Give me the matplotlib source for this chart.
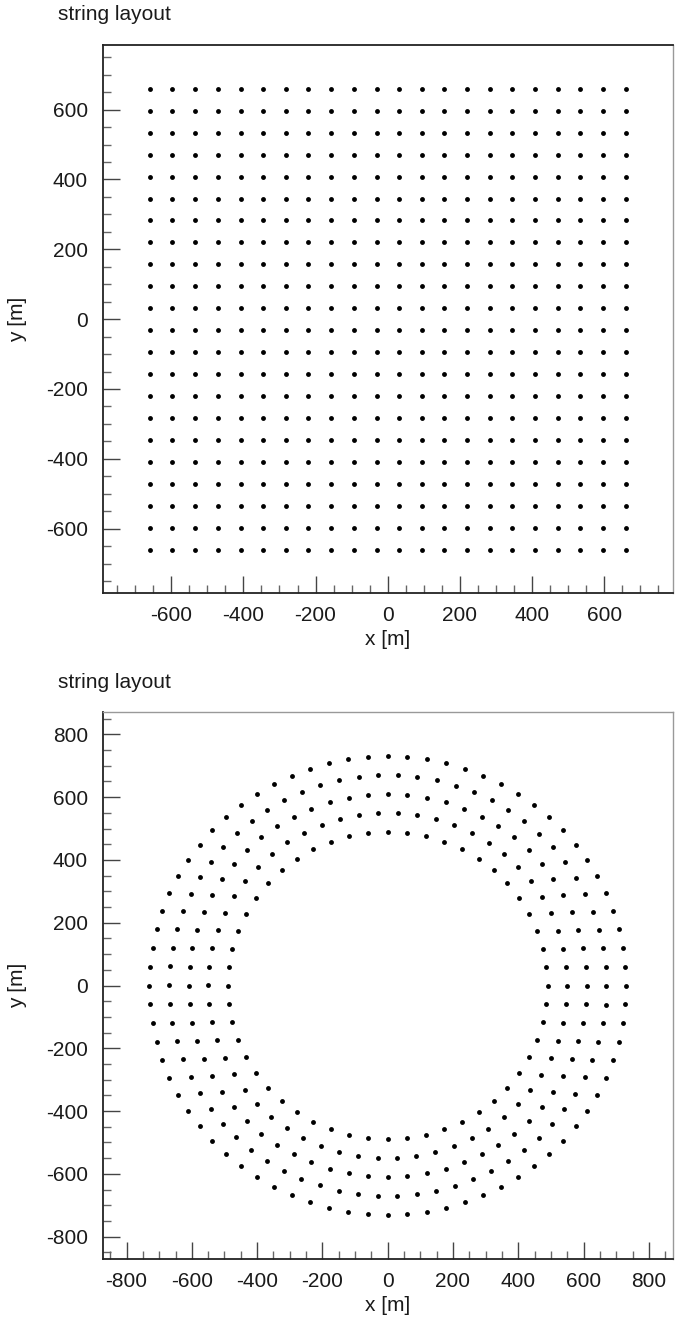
import numpy as np
import matplotlib
matplotlib.use("Agg")
import matplotlib.pyplot as plt
from matplotlib.ticker import MultipleLocator, FuncFormatter

# ---- data ----
grid_x = [-660, -597, -534, -471, -408, -345, -283, -220, -157, -94, -31,
          31, 94, 157, 220, 283, 345, 408, 471, 534, 597, 660]
grid_y = [-660, -597, -534, -471, -408, -345, -283, -220, -157, -94, -31,
          31, 94, 157, 220, 283, 345, 408, 471, 534, 597, 660]

ring_radius = [490, 550, 610, 670, 730]
ring_count = [52, 58, 64, 70, 76]
ring_phase_deg = [0.0, 3.0, 0.0, 2.5, 0.0]

title_text = "string layout"
xlabel_text = "x [m]"
ylabel_text = "y [m]"

plt.rcParams['font.family'] = ['Liberation Sans', 'DejaVu Sans']
FS = 15

W, H = 680, 1324
fig = plt.figure(figsize=(W / 100, H / 100), dpi=100)

fmt = FuncFormatter(lambda v, p: f"{v:.0f}")


def style_axes(ax, xlim, ylim):
    ax.set_xlim(*xlim)
    ax.set_ylim(*ylim)
    ax.xaxis.set_major_locator(MultipleLocator(200))
    ax.yaxis.set_major_locator(MultipleLocator(200))
    ax.xaxis.set_minor_locator(MultipleLocator(50))
    ax.yaxis.set_minor_locator(MultipleLocator(50))
    ax.tick_params(which='both', direction='in', top=False, right=False,
                   labelsize=FS, labelcolor='#1a1a1a')
    ax.tick_params(which='major', length=12, width=1.0, color='#444444')
    ax.tick_params(which='minor', length=6, width=1.0, color='#666666')
    ax.tick_params(axis='y', which='major', pad=10.5)
    ax.tick_params(axis='x', which='major', pad=9)
    ax.xaxis.set_major_formatter(fmt)
    ax.yaxis.set_major_formatter(fmt)
    ax.set_xlabel(xlabel_text, fontsize=FS, labelpad=4, color='#1a1a1a')
    ax.set_ylabel(ylabel_text, fontsize=FS, labelpad=14, color='#1a1a1a')


# ---- top: square grid ----
ax1 = fig.add_axes([102.7 / W, 1 - 593.3 / H, 570 / W, 548.3 / H])
gx, gy = np.meshgrid(grid_x, grid_y)
ax1.plot(gx.ravel(), gy.ravel(), 'o', color='black', ms=3.5, mew=0)
style_axes(ax1, (-790, 790), (-785, 785))
for s in ['left', 'bottom', 'top']:
    ax1.spines[s].set_color('#222222')
    ax1.spines[s].set_linewidth(1.3)
ax1.spines['right'].set_color('#999999')
ax1.spines['right'].set_linewidth(1.0)
fig.text(58 / W, 1 - 15 / H, title_text, fontsize=FS, ha='left', va='center', color='#1a1a1a')

# ---- bottom: rings ----
ax2 = fig.add_axes([102.7 / W, 1 - 1259.3 / H, 570 / W, 547.6 / H])
for r, n, ph in zip(ring_radius, ring_count, ring_phase_deg):
    th = np.deg2rad(ph + 90 + 360.0 * np.arange(n) / n)
    ax2.plot(r * np.cos(th), r * np.sin(th), 'o', color='black', ms=3.5, mew=0)
style_axes(ax2, (-873, 873), (-872, 872))
for s in ['left', 'bottom']:
    ax2.spines[s].set_color('#222222')
    ax2.spines[s].set_linewidth(1.3)
for s in ['top', 'right']:
    ax2.spines[s].set_color('#999999')
    ax2.spines[s].set_linewidth(1.0)
fig.text(58 / W, 1 - 683 / H, title_text, fontsize=FS, ha='left', va='center', color='#1a1a1a')

fig.savefig("out.png", dpi=100)
